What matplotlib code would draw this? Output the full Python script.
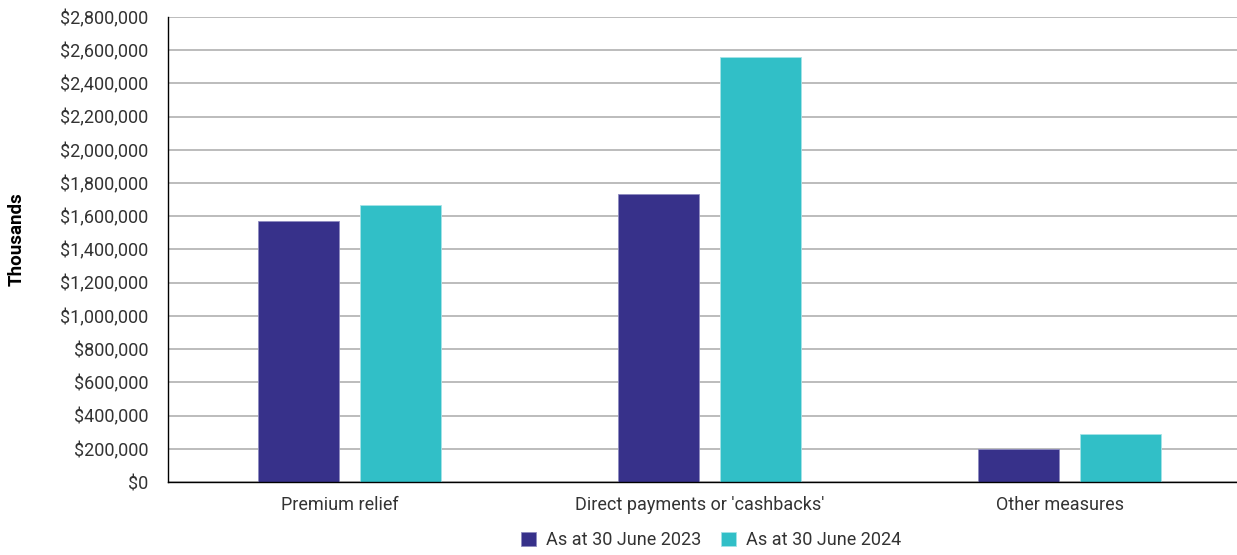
import matplotlib.pyplot as plt
import matplotlib.transforms as mtransforms
import numpy as np
from matplotlib.ticker import FuncFormatter

plt.rcParams['font.family'] = ['Roboto', 'DejaVu Sans']

categories = ['Premium relief', "Direct payments or 'cashbacks'", 'Other measures']
labels = ['As at 30 June 2023', 'As at 30 June 2024']
values_2023 = [1573000, 1732000, 197000]
values_2024 = [1666000, 2561000, 289000]
colors = ['#37318A', '#31BFC7']

fig = plt.figure(figsize=(12.37, 5.55), dpi=100)
ax = fig.add_axes([0.1358, 0.1315, 0.8642, 0.838])

x = np.arange(len(categories))
w = 0.225
off = 0.1417
ax.bar(x - off, values_2023, w, color=colors[0], edgecolor='#8f8cc0', linewidth=0.6,
       label=labels[0], zorder=3)
ax.bar(x + off, values_2024, w, color=colors[1], edgecolor='#a5e3e7', linewidth=0.6,
       label=labels[1], zorder=3)

ax.set_xlim(-0.504, 2.465)
ax.set_ylim(0, 2800000)
ax.set_yticks(np.arange(0, 2800001, 200000))
ax.yaxis.set_major_formatter(FuncFormatter(lambda v, p: '${:,.0f}'.format(v)))
ax.set_xticks(x)
ax.set_xticklabels(categories)
ax.tick_params(axis='both', length=0, labelsize=13, colors='#333333')
ax.tick_params(axis='y', pad=14)
ax.tick_params(axis='x', pad=10)

# category labels sit a little left of the bar pairs in the original
shift = mtransforms.ScaledTranslation(-10 / 100, 0, fig.dpi_scale_trans)
for lbl in ax.get_xticklabels():
    lbl.set_transform(lbl.get_transform() + shift)

ax.grid(axis='y', color='#b0b0b0', linewidth=1.2, zorder=0)
for s in ['top', 'right']:
    ax.spines[s].set_visible(False)
ax.spines['left'].set_color('black')
ax.spines['bottom'].set_color('black')
ax.spines['left'].set_linewidth(1)
ax.spines['bottom'].set_linewidth(1)
ax.spines['bottom'].set_zorder(4)

ax.set_ylabel('Thousands', fontsize=13.5, fontweight='bold')
ax.yaxis.set_label_coords(-0.133, 0.5215)

ax.legend(loc='upper center', bbox_to_anchor=(0.508, -0.071), ncol=2, frameon=False,
          fontsize=13, handlelength=0.83, handleheight=0.83, handletextpad=0.55,
          columnspacing=1.1, labelcolor='#333333')

fig.savefig('out.png', dpi=100)
